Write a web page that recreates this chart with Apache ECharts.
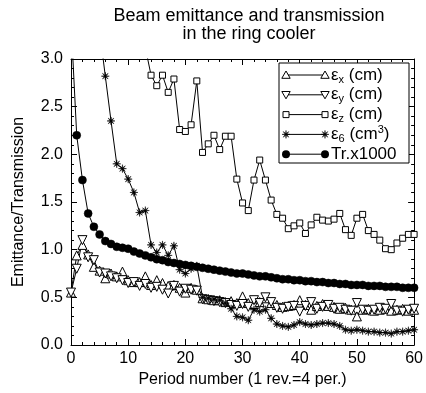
<!DOCTYPE html>
<html>
<head>
<meta charset="utf-8">
<script src="https://cdn.jsdelivr.net/npm/echarts@6/dist/echarts.min.js"></script>
<style>
html,body{margin:0;padding:0;background:#fff;}
#chart{width:426px;height:393px;}
</style>
</head>
<body>
<div id="chart"></div>
<script>
// Period numbers (x values)
const periods = [0,1,2,3,4,5,6,7,8,9,10,11,12,13,14,15,16,17,18,19,20,21,22,23,24,25,26,27,28,29,30,31,32,33,34,35,36,37,38,39,40,41,42,43,44,45,46,47,48,49,50,51,52,53,54,55,56,57,58,59,60];

// ε_x (cm)
const epsX = [0.55,0.94,1.05,0.95,0.82,0.78,0.70,0.75,0.72,0.77,0.68,0.66,0.66,0.72,0.63,0.68,0.65,0.62,0.63,0.60,0.55,0.60,0.58,0.49,0.48,0.47,0.47,0.45,0.46,0.44,0.51,0.44,0.43,0.45,0.49,0.44,0.42,0.40,0.41,0.42,0.47,0.42,0.37,0.41,0.43,0.41,0.40,0.38,0.39,0.37,0.30,0.37,0.38,0.36,0.37,0.38,0.36,0.37,0.38,0.36,0.37];

// ε_y (cm)
const epsY = [0.55,0.80,1.10,0.92,0.89,0.76,0.75,0.72,0.70,0.68,0.65,0.66,0.62,0.64,0.60,0.61,0.58,0.54,0.62,0.56,0.59,0.58,0.57,0.48,0.47,0.46,0.45,0.44,0.42,0.41,0.43,0.40,0.47,0.44,0.50,0.45,0.39,0.38,0.40,0.41,0.35,0.41,0.45,0.38,0.40,0.42,0.38,0.39,0.37,0.36,0.44,0.37,0.36,0.37,0.39,0.38,0.43,0.36,0.35,0.37,0.38];

// ε_z (cm)
const epsZ = [null,null,null,null,null,null,null,null,null,null,null,null,null,3.12,2.83,2.72,2.83,2.65,2.79,2.26,2.24,2.31,2.77,2.02,2.11,2.20,2.05,2.19,2.19,1.74,1.49,1.41,1.73,1.94,1.73,1.52,1.37,1.33,1.22,1.25,1.28,1.17,1.26,1.34,1.31,1.30,1.32,1.38,1.21,1.15,1.33,1.37,1.20,1.16,1.10,1.01,1.00,1.07,1.12,1.16,1.16];

// ε_6 (cm^3)
const eps6 = [null,null,null,null,null,3.30,2.82,2.35,1.90,1.85,1.74,1.60,1.39,1.41,1.05,0.97,1.05,0.94,1.04,0.79,0.75,0.80,0.83,0.50,0.49,0.48,0.47,0.44,0.38,0.30,0.29,0.26,0.37,0.35,0.37,0.28,0.22,0.20,0.19,0.21,0.24,0.22,0.21,0.22,0.23,0.23,0.22,0.20,0.16,0.15,0.16,0.15,0.14,0.14,0.13,0.13,0.12,0.14,0.14,0.15,0.16];

// Transmission x1000
const trans = [3.40,2.20,1.73,1.38,1.24,1.16,1.09,1.06,1.03,1.02,1.01,0.98,0.96,0.94,0.92,0.90,0.89,0.87,0.86,0.85,0.84,0.83,0.82,0.81,0.80,0.79,0.78,0.77,0.76,0.75,0.75,0.74,0.73,0.72,0.72,0.71,0.70,0.69,0.69,0.68,0.68,0.67,0.67,0.66,0.66,0.65,0.65,0.64,0.64,0.63,0.63,0.63,0.62,0.62,0.62,0.61,0.61,0.61,0.60,0.60,0.60];

const xTicks = [0,10,20,30,40,50,60];
const yTicks = ['0.0','0.5','1.0','1.5','2.0','2.5','3.0'];

const FONT = '"Liberation Sans", Arial, sans-serif';
// 8-spoke asterisk-like star (outer r 10, inner r 2.5)
const STAR_PTS = [[10,0],[2.31,0.96],[7.07,7.07],[0.96,2.31],[0,10],[-0.96,2.31],[-7.07,7.07],[-2.31,0.96],[-10,0],[-2.31,-0.96],[-7.07,-7.07],[-0.96,-2.31],[0,-10],[0.96,-2.31],[7.07,-7.07],[2.31,-0.96]];
const STAR = 'path://M' + STAR_PTS.map(p=>p[0]+' '+p[1]).join(' L') + ' Z';

function pairs(vals){ return periods.map((p,i)=>[p, vals[i]]); }

function mkSeries(name, vals, symbol, size, hollow, rotate){
  return {
    name, type:'line', data: pairs(vals), symbol, symbolSize:size, symbolRotate: rotate||0,
    showAllSymbol:true, clip:true, connectNulls:false,
    lineStyle:{color:'#000', width:1},
    itemStyle:{color: hollow ? '#fff' : '#000', borderColor:'#000', borderWidth: hollow ? 1 : 0.5},
    emphasis:{disabled:true}
  };
}

const axisCommonX = {
  type:'value', min:0, max:60, interval:10,
  axisLine:{show:true, onZero:false, lineStyle:{color:'#000', width:1}},
  axisTick:{show:true, inside:true, length:6, lineStyle:{color:'#000'}},
  minorTick:{show:true, splitNumber:5, length:3, lineStyle:{color:'#000'}},
  splitLine:{show:false}
};
const axisCommonY = {
  type:'value', min:0, max:3, interval:0.5,
  axisLine:{show:true, onZero:false, lineStyle:{color:'#000', width:1}},
  axisTick:{show:true, inside:true, length:6, lineStyle:{color:'#000'}},
  minorTick:{show:true, splitNumber:5, length:3, lineStyle:{color:'#000'}},
  splitLine:{show:false}
};

// Legend drawn as graphic
const legendRows = [
  {text:'{n|ε}{s|x}{n| (cm)}', sym:'up'},
  {text:'{n|ε}{s|y}{n| (cm)}', sym:'down'},
  {text:'{n|ε}{s|z}{n| (cm)}', sym:'square'},
  {text:'{n|ε}{s|6}{n| (cm}{p|3}{n|)}', sym:'star'},
  {text:'{n|Tr.x1000}', sym:'circle'}
];
const LX0 = 286, LX1 = 325, LY0 = 75, LDY = 19.8;
function legendSymbol(kind, x, y){
  if (kind==='up') return {type:'polygon', shape:{points:[[x,y-4],[x+4.2,y+3.3],[x-4.2,y+3.3]]}, style:{fill:'#fff', stroke:'#000', lineWidth:1}, z:102};
  if (kind==='down') return {type:'polygon', shape:{points:[[x,y+4],[x+4.2,y-3.3],[x-4.2,y-3.3]]}, style:{fill:'#fff', stroke:'#000', lineWidth:1}, z:102};
  if (kind==='square') return {type:'rect', shape:{x:x-3,y:y-3,width:6,height:6}, style:{fill:'#fff', stroke:'#000', lineWidth:1}, z:102};
  if (kind==='star') return {type:'polygon', shape:{points:STAR_PTS.map(p=>[x+p[0]*0.4, y+p[1]*0.4])}, style:{fill:'#000', stroke:'#000', lineWidth:0.5}, z:102};
  return {type:'circle', shape:{cx:x, cy:y, r:4}, style:{fill:'#000'}, z:102};
}
const graphics = [
  {type:'rect', shape:{x:279, y:63, width:130, height:100}, style:{fill:'#fff', stroke:'#000', lineWidth:1}, z:100}
];
legendRows.forEach((r,i)=>{
  const y = LY0 + i*LDY;
  graphics.push({type:'line', shape:{x1:LX0, y1:y, x2:LX1, y2:y}, style:{stroke:'#000', lineWidth:1}, z:101});
  graphics.push(legendSymbol(r.sym, LX0, y));
  graphics.push(legendSymbol(r.sym, LX1, y));
  graphics.push({type:'text', x:331, y:y, z:102, style:{
    text:r.text, verticalAlign:'middle', align:'left', fill:'#000',
    rich:{
      n:{fontSize:17, fontFamily:FONT, lineHeight:20, fill:'#000'},
      s:{fontSize:11, fontFamily:FONT, lineHeight:10, verticalAlign:'bottom', fill:'#000'},
      p:{fontSize:11, fontFamily:FONT, lineHeight:10, verticalAlign:'top', fill:'#000'}
    }
  }});
});

const chart = echarts.init(document.getElementById('chart'), null, {renderer:'canvas'});
chart.setOption({
  animation:false,
  backgroundColor:'#fff',
  textStyle:{fontFamily:FONT},
  title:{
    text:'Beam emittance and transmission\nin the ring cooler',
    left:244, top:2, textAlign:'center',
    textStyle:{fontSize:18, fontWeight:'normal', color:'#000', fontFamily:FONT, lineHeight:18}
  },
  grid:{left:71, right:8, top:59, bottom:48, containLabel:false},
  xAxis:[
    Object.assign({}, axisCommonX, {
      position:'bottom',
      axisLabel:{show:true, color:'#000', fontSize:16, fontFamily:FONT, margin:6,
        formatter:(v)=> xTicks.includes(v) ? String(v) : ''},
      name:'Period number (1 rev.=4 per.)', nameLocation:'middle', nameGap:26,
      nameTextStyle:{fontSize:16, color:'#000', fontFamily:FONT}
    }),
    Object.assign({}, axisCommonX, {position:'top', axisLabel:{show:false}})
  ],
  yAxis:[
    Object.assign({}, axisCommonY, {
      position:'left',
      axisLabel:{show:true, color:'#000', fontSize:16, fontFamily:FONT, margin:8,
        formatter:(v)=> yTicks[Math.round(v*2)] || ''},
      name:'Emittance/Transmission', nameLocation:'middle', nameGap:44, nameRotate:90,
      nameTextStyle:{fontSize:16, color:'#000', fontFamily:FONT}
    }),
    Object.assign({}, axisCommonY, {position:'right', axisLabel:{show:false}})
  ],
  series:[
    mkSeries('εx', epsX, 'triangle', 9, true, 0),
    mkSeries('εy', epsY, 'triangle', 9, true, 180),
    mkSeries('εz', epsZ, 'rect', 6, true, 0),
    mkSeries('ε6', eps6, STAR, 8, false, 0),
    mkSeries('Tr', trans, 'circle', 8, false, 0)
  ],
  graphic: graphics
});
</script>
</body>
</html>
